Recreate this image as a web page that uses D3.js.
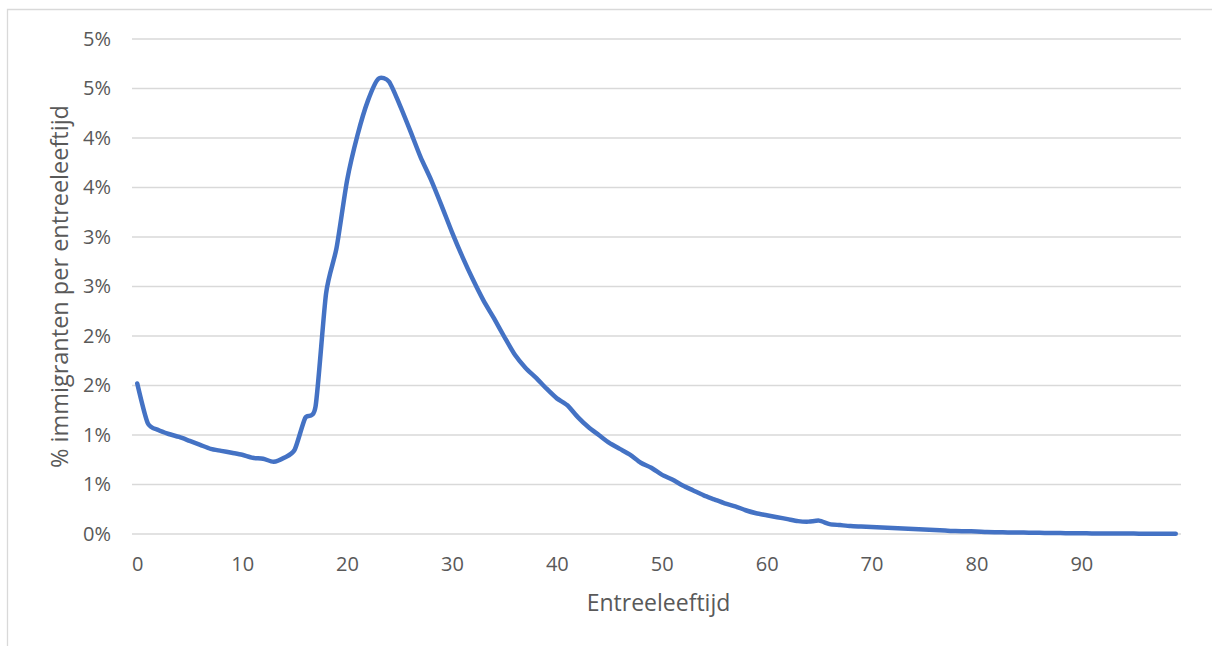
<!DOCTYPE html>
<html>
<head>
<meta charset="utf-8">
<script src="https://cdn.jsdelivr.net/npm/d3@7"></script>
<style>
  html, body { margin: 0; padding: 0; background: #fff; }
  svg { display: block; font-family: "Open Sans", Lato, "Liberation Sans", sans-serif; }
</style>
</head>
<body>
<svg id="chart" width="1212" height="646"></svg>
<script>
// Entry age (years)
const ages = d3.range(0, 100);

// Share of immigrants per entry age (fraction of total)
const shares = [
  0.0152, 0.0112, 0.0105, 0.0101, 0.0098, 0.0094, 0.0090, 0.0086, 0.0084, 0.0082,
  0.0080, 0.0077, 0.0076, 0.0073, 0.0077, 0.0085, 0.0117, 0.0129, 0.0243, 0.0289,
  0.0357, 0.0403, 0.0438, 0.0460, 0.0457, 0.0434, 0.0408, 0.0381, 0.0358, 0.0332,
  0.0305, 0.0280, 0.0257, 0.0236, 0.0218, 0.0199, 0.0181, 0.0168, 0.0158, 0.0147,
  0.0137, 0.0130, 0.0118, 0.0108, 0.0100, 0.0092, 0.0086, 0.0080, 0.0072, 0.0067,
  0.0060, 0.0055, 0.0049, 0.0044, 0.0039, 0.0035, 0.0031, 0.0028, 0.0024, 0.0021,
  0.0019, 0.0017, 0.0015, 0.0013, 0.00125, 0.00135, 0.0010, 0.0009, 0.0008, 0.00075,
  0.0007, 0.00065, 0.0006, 0.00055, 0.0005, 0.00045, 0.0004, 0.00035, 0.0003, 0.00028,
  0.00025, 0.0002, 0.00018, 0.00016, 0.00015, 0.00013, 0.00012, 0.0001, 0.00009, 0.00008,
  0.00007, 0.00006, 0.00005, 0.00005, 0.00004, 0.00004, 0.00003, 0.00003, 0.00002, 0.00002
];

// Axis ticks
const yTicks = [0, 0.005, 0.01, 0.015, 0.02, 0.025, 0.03, 0.035, 0.04, 0.045, 0.05];
const xTickLabels = [0, 10, 20, 30, 40, 50, 60, 70, 80, 90];

const xTitle = "Entreeleeftijd";
const yTitle = "% immigranten per entreeleeftijd";

const svg = d3.select("#chart");
const plot = { left: 132, right: 1181, top: 39, bottom: 534 };
const textColor = "#595959";
const gridColor = "#d9d9d9";

const x = d3.scalePoint().domain(ages).range([plot.left, plot.right]).padding(0.5);
const y = d3.scaleLinear().domain([0, 0.05]).range([plot.bottom, plot.top]);

// Chart frame (only top and left edges fall inside the view)
svg.append("path")
  .attr("d", `M7.5,646 V9.5 H1212`)
  .attr("fill", "none")
  .attr("stroke", gridColor)
  .attr("stroke-width", 1.3);

// Horizontal gridlines
svg.append("g")
  .selectAll("line")
  .data(yTicks)
  .join("line")
  .attr("x1", plot.left)
  .attr("x2", plot.right)
  .attr("y1", d => y(d))
  .attr("y2", d => y(d))
  .attr("stroke", gridColor)
  .attr("stroke-width", 1.3);

// Y axis labels
const fmt = d3.format(".0%");
const yAxis = d3.axisLeft(y).tickValues(yTicks).tickFormat(fmt).tickSize(0).tickPadding(0);
svg.append("g")
  .attr("transform", `translate(${plot.left - 21},0)`)
  .call(yAxis)
  .call(g => g.select(".domain").remove())
  .call(g => g.selectAll("text")
    .attr("fill", textColor)
    .attr("font-size", 20)
    .attr("font-family", "'Open Sans', sans-serif"));

// X axis labels
const xAxis = d3.axisBottom(x).tickValues(xTickLabels).tickSize(0).tickPadding(0);
svg.append("g")
  .attr("transform", `translate(0,${plot.bottom + 23})`)
  .call(xAxis)
  .call(g => g.select(".domain").remove())
  .call(g => g.selectAll("text")
    .attr("fill", textColor)
    .attr("font-size", 20)
    .attr("font-family", "'Open Sans', sans-serif"));

// Axis titles
svg.append("text")
  .attr("x", (plot.left + plot.right) / 2 + 2)
  .attr("y", 611)
  .attr("text-anchor", "middle")
  .attr("fill", textColor)
  .attr("font-size", 23)
  .text(xTitle);

svg.append("text")
  .attr("transform", `translate(68,${(plot.top + plot.bottom) / 2}) rotate(-90)`)
  .attr("text-anchor", "middle")
  .attr("fill", textColor)
  .attr("font-size", 23.5)
  .text(yTitle);

// Smoothed series line
const line = d3.line()
  .x((d, i) => x(ages[i]))
  .y(d => y(d))
  .curve(d3.curveCardinal.tension(0.3));

svg.append("path")
  .datum(shares)
  .attr("d", line)
  .attr("fill", "none")
  .attr("stroke", "#4472c4")
  .attr("stroke-width", 4.5)
  .attr("stroke-linecap", "round")
  .attr("stroke-linejoin", "round");
</script>
</body>
</html>
